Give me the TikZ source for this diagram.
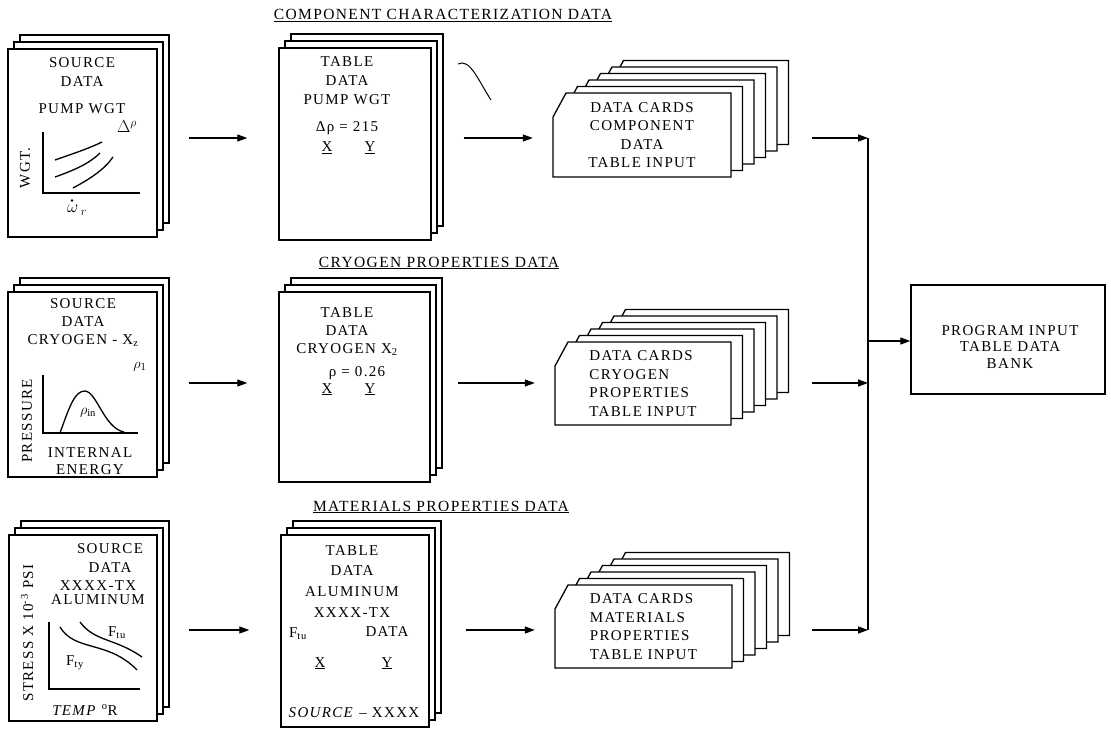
\documentclass[tikz,border=0pt]{standalone}
\usepackage{fontspec}
\setmainfont{Liberation Serif}[LetterSpace=9]
\usetikzlibrary{arrows.meta}

\tikzset{
  txt/.style={font=\fontsize{15}{19}\selectfont, inner sep=0pt, align=center},
  sheet/.style={draw, fill=white, line width=1.1pt},
  page/.style={sheet, line width=1.4pt, inner sep=0pt},
  cardline/.style={draw, fill=white, line width=1.3pt, line join=miter},
  cardtxt/.style={inner sep=0pt, minimum width=178pt, minimum height=84pt,
    font=\fontsize{15}{18.5}\selectfont},
  axis/.style={line width=1.4pt},
  curve/.style={line width=1.3pt},
  flow/.style={-{Triangle[length=10pt,width=7pt]}, line width=1.3pt},
}

\begin{document}
\begin{tikzpicture}[x=1pt,y=-1pt]
\useasboundingbox (0,0) rectangle (1111,730);

\coordinate (row1) at (0,138);
\coordinate (row2) at (0,383);
\coordinate (row3) at (0,630);
\coordinate (bus) at (868,341);

% headers
\node[txt, anchor=base, font=\fontsize{15.5}{19}\selectfont] (hdr1) at (443,20)
  {\underline{COMPONENT CHARACTERIZATION DATA}};
\node[txt, anchor=base, font=\fontsize{15.5}{19}\selectfont] (hdr2) at (439,267)
  {\underline{CRYOGEN PROPERTIES DATA}};
\node[txt, anchor=base, font=\fontsize{15.5}{19}\selectfont] (hdr3) at (441,511)
  {\underline{MATERIALS PROPERTIES DATA}};

% source sheets
\foreach \d in {2,1} {
  \draw[sheet] (8+6*\d,49-7*\d) rectangle ++(149,188);
  \draw[sheet] (8+6*\d,292-7*\d) rectangle ++(149,185);
  \draw[sheet] (9+6*\d,535-7*\d) rectangle ++(148,186);
}
\node[page, minimum width=149pt, minimum height=188pt] (src1) at (82.5,143) {};
\node[page, minimum width=149pt, minimum height=185pt] (src2) at (82.5,384.5) {};
\node[page, minimum width=148pt, minimum height=186pt] (src3) at (83,628) {};

% pump weight
\node[txt, anchor=north] (s1txt) at (82,57) {SOURCE\\DATA\\[8pt]PUMP WGT};
\draw[axis] (43,132) -- (43,193) -- (140,193);
\draw[curve] (55,160) .. controls (75,153) and (90,148) .. (102,142);
\draw[curve] (55,177) .. controls (75,170) and (90,163) .. (100,153);
\draw[curve] (73,188) .. controls (90,179) and (105,169) .. (113,157);
\node[txt, font=\fontsize{17}{19}\selectfont] (s1dp) at (127,127) {$\Delta^{\rho}$};
\node[txt, rotate=90] (s1y) at (25,168) {WGT.};
\node[txt, font=\fontsize{17}{19}\selectfont] (s1x) at (77,210) {$\omega_{\;r}$};
\fill (72,200.5) circle (1.3pt);

% cryogen
\node[txt, anchor=north] (s2txt) at (83,298) {SOURCE\\[-1pt]DATA\\[-1pt]CRYOGEN - X\textsubscript{z}};
\draw[axis] (43,375) -- (43,433) -- (138,433);
\draw[curve] (60,433) .. controls (70,405) and (75,391) .. (85,391)
  .. controls (97,392) and (104,428) .. (124,432);
\node[txt] (s2p1) at (140,367) {$\rho_1$};
\node[txt] (s2pin) at (88,413) {$\rho_{\mathrm{in}}$};
\node[txt, rotate=90] (s2y) at (27,421) {PRESSURE};
\node[txt, anchor=north] (s2x) at (90,447) {INTERNAL\\[-2pt]ENERGY};

% aluminum
\node[txt, anchor=north] (s3txt) at (110,543) {SOURCE\\DATA};
\node[txt, anchor=north] (s3mat) at (98,580) {XXXX-TX\\[-5pt]ALUMINUM};
\draw[axis] (49,622) -- (49,689) -- (140,689);
\draw[curve] (80,622) .. controls (95,642) and (115,638) .. (142,657);
\draw[curve] (60,627) .. controls (75,652) and (108,640) .. (137,670);
\node[txt] (s3ftu) at (117,633) {F\textsubscript{tu}};
\node[txt] (s3fty) at (75,663) {F\textsubscript{ty}};
\node[txt, rotate=90] (s3y) at (27,633) {STRESS X 10\textsuperscript{-3} PSI};
\node[txt] (s3x) at (85,710) {\textit{TEMP} \textsuperscript{o}R};

% table sheets
\foreach \d in {2,1} {
  \draw[sheet] (279+6*\d,48-7*\d) rectangle ++(152,192);
  \draw[sheet] (279+6*\d,292-7*\d) rectangle ++(151,190);
  \draw[sheet] (281+6*\d,535-7*\d) rectangle ++(148,192);
}
\node[page, minimum width=152pt, minimum height=192pt] (tab1) at (355,144) {};
\node[page, minimum width=151pt, minimum height=190pt] (tab2) at (354.5,387) {};
\node[page, minimum width=148pt, minimum height=192pt] (tab3) at (355,631) {};

\node[txt, anchor=north] (t1txt) at (347,56) {TABLE\\DATA\\PUMP WGT\\[8pt]Δρ = 215};
\node[txt, anchor=base] (t1x) at (327,152) {\underline{X}};
\node[txt, anchor=base] (t1y) at (370,152) {\underline{Y}};

\node[txt, anchor=north] (t2txt) at (347,307) {TABLE\\[-1pt]DATA\\[-1pt]CRYOGEN X\textsubscript{2}};
\node[txt] (t2rho) at (357,373) {ρ = 0.26};
\node[txt, anchor=base] (t2x) at (327,393) {\underline{X}};
\node[txt, anchor=base] (t2y) at (370,393) {\underline{Y}};

\node[txt, anchor=north, font=\fontsize{15}{20.7}\selectfont] (t3txt) at (352,545)
  {TABLE\\DATA\\ALUMINUM\\XXXX-TX};
\node[txt] (t3ftu) at (298,634) {F\textsubscript{tu}};
\node[txt] (t3data) at (387,632) {DATA};
\node[txt, anchor=base] (t3x) at (320,667) {\underline{X}};
\node[txt, anchor=base] (t3y) at (387,667) {\underline{Y}};
\node[txt] (t3src) at (354,713) {\textit{SOURCE} -- XXXX};

\draw[line width=1pt] (458,64) .. controls (470,58) and (478,80) .. (491,100);

% card decks, back to front
\foreach \k in {5,4,3,2,1,0} {
  \draw[cardline] (553+11.5*\k,93-6.5*\k) ++(13,0) -- ++(165,0) -- ++(0,84)
    -- ++(-178,0) -- ++(0,-60) -- cycle;
  \draw[cardline] (555+11.5*\k,342-6.5*\k) ++(13,0) -- ++(163,0) -- ++(0,83)
    -- ++(-176,0) -- ++(0,-59) -- cycle;
  \draw[cardline] (555+11.5*\k,585-6.5*\k) ++(13,0) -- ++(164,0) -- ++(0,83)
    -- ++(-177,0) -- ++(0,-59) -- cycle;
}
\node[cardtxt, align=center] (cards1) at (642,135) {DATA CARDS\\COMPONENT\\DATA\\TABLE INPUT};
\node[cardtxt, align=left, minimum width=176pt] (cards2) at (643,383.5) {DATA CARDS\\CRYOGEN\\PROPERTIES\\TABLE INPUT};
\node[cardtxt, align=left, minimum width=177pt] (cards3) at (643.5,626.5) {DATA CARDS\\MATERIALS\\PROPERTIES\\TABLE INPUT};

\node[draw, line width=1.4pt, minimum width=194pt, minimum height=109pt] (bank) at (1008,339.5) {};
\node[txt, font=\fontsize{15}{16.5}\selectfont] (banktxt) at (1010,347)
  {PROGRAM INPUT\\TABLE DATA\\BANK};

% flow
\draw[flow, shorten <=31pt, shorten >=31pt] (src1.east |- row1) -- (tab1.west |- row1);
\draw[flow, shorten <=31pt, shorten >=31pt] (src2.east |- row2) -- (tab2.west |- row2);
\draw[flow, shorten <=31pt, shorten >=31pt] (src3.east |- row3) -- (tab3.west |- row3);

\draw[flow, shorten <=32pt, shorten >=20pt] (tab1.east |- row1) -- (cards1.west |- row1);
\draw[flow, shorten <=27pt, shorten >=20pt] (tab2.east |- row2) -- (cards2.west |- row2);
\draw[flow, shorten <=36pt, shorten >=20pt] (tab3.east |- row3) -- (cards3.west |- row3);

\draw[flow, shorten <=81pt] (cards1.east |- row1) -- (bus |- row1);
\draw[flow, shorten <=81pt] (cards2.east |- row2) -- (bus |- row2);
\draw[flow, shorten <=80pt] (cards3.east |- row3) -- (bus |- row3);
\draw[line width=1.6pt] (bus |- row1) -- (bus |- row3);
\draw[flow] (bus) -- (bank.west |- bus);
\end{tikzpicture}
\end{document}
